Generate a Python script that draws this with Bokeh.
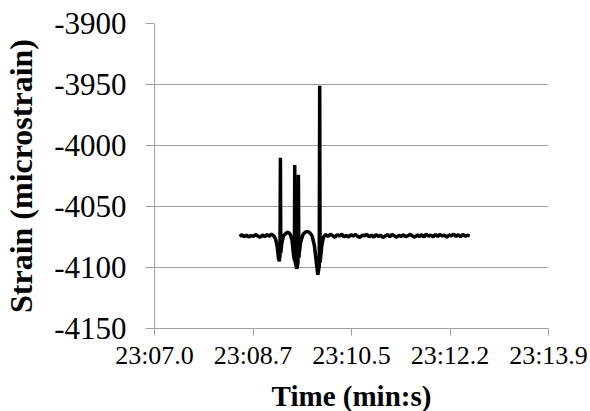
from bokeh.plotting import figure
from bokeh.models import FixedTicker, Range1d
from bokeh.embed import file_html
from bokeh.resources import INLINE

# ---- data (seconds within minute 23, strain in microstrain) ----
time_s = [
    8.49, 8.53, 8.57, 8.61, 8.65, 8.69, 8.73, 8.77, 8.81, 8.85,
    8.89, 8.93, 8.97, 9.01, 9.05, 9.09, 9.12, 9.15, 9.17, 9.185,
    9.198, 9.205, 9.212, 9.23, 9.26, 9.30, 9.34, 9.38, 9.41, 9.43,
    9.45, 9.456, 9.462, 9.48, 9.495, 9.512, 9.52, 9.528, 9.54, 9.56,
    9.60, 9.64, 9.68, 9.72, 9.76, 9.80, 9.83, 9.86, 9.885, 9.893,
    9.90, 9.93, 9.96, 10.00, 10.04, 10.08, 10.12, 10.16, 10.20, 10.24,
    10.28, 10.32, 10.36, 10.40, 10.44, 10.48, 10.52, 10.56, 10.60, 10.64,
    10.68, 10.72, 10.76, 10.80, 10.84, 10.88, 10.92, 10.96, 11.00, 11.04,
    11.08, 11.12, 11.16, 11.20, 11.24, 11.28, 11.32, 11.36, 11.40, 11.44,
    11.48, 11.52, 11.56, 11.60, 11.64, 11.68, 11.72, 11.76, 11.80, 11.84,
    11.88, 11.92, 11.96, 12.00, 12.04, 12.08, 12.12, 12.16, 12.20, 12.24,
    12.28, 12.32, 12.36, 12.40, 12.44, 12.48, 12.52,
]
strain_me = [
    -4074.5, -4073.2, -4074.8, -4073.5, -4075.0, -4073.8, -4074.6, -4072.9, -4074.2, -4075.3,
    -4073.4, -4074.7, -4073.0, -4074.4, -4072.6, -4074.0, -4076.5, -4083.0, -4092.0, -4095.0,
    -4090.0, -4010.0, -4088.0, -4080.0, -4074.0, -4072.0, -4071.0, -4073.0, -4078.0, -4088.0,
    -4094.0, -4016.0, -4095.0, -4099.0, -4101.0, -4096.0, -4024.0, -4092.0, -4086.0, -4079.0,
    -4073.0, -4071.0, -4070.5, -4071.5, -4074.0, -4082.0, -4094.0, -4106.0, -4099.0, -3951.0,
    -4096.0, -4082.0, -4075.0, -4073.0, -4074.5, -4072.8, -4073.9, -4075.2, -4073.1, -4074.3,
    -4072.7, -4074.8, -4073.6, -4075.0, -4073.2, -4074.1, -4072.9, -4074.6, -4075.3, -4073.4,
    -4074.0, -4072.8, -4074.9, -4073.5, -4075.1, -4073.0, -4074.4, -4073.7, -4075.4, -4074.2,
    -4073.1, -4074.7, -4072.9, -4074.0, -4075.2, -4073.6, -4074.5, -4073.2, -4074.8, -4073.9,
    -4072.8, -4074.3, -4075.0, -4073.4, -4074.6, -4073.1, -4074.9, -4072.7, -4074.2, -4073.5,
    -4074.8, -4073.0, -4074.4, -4072.9, -4074.1, -4073.6, -4075.1, -4073.3, -4074.0, -4072.8,
    -4074.5, -4073.2, -4074.7, -4073.0, -4074.3, -4073.6, -4074.1,
]

x_tick_pos = [7.0, 8.725, 10.45, 12.175, 13.9]
x_tick_labels = ["23:07.0", "23:08.7", "23:10.5", "23:12.2", "23:13.9"]
y_tick_pos = [-4150, -4100, -4050, -4000, -3950, -3900]
y_tick_labels = ["-4150", "-4100", "-4050", "-4000", "-3950", "-3900"]

x_title = "Time (min:s)"
y_title = "Strain (microstrain)"

SERIF = "Liberation Serif"
GRID = "#a0a0a0"

p = figure(
    width=588, height=409,
    frame_width=394, frame_height=305,
    min_border_left=154, min_border_right=40,
    min_border_top=23, min_border_bottom=81,
    x_range=Range1d(x_tick_pos[0], x_tick_pos[-1]),
    y_range=Range1d(y_tick_pos[0], y_tick_pos[-1]),
    output_backend="svg", toolbar_location=None,
)
p.outline_line_color = None
p.background_fill_color = "white"
p.border_fill_color = "white"

p.line(time_s, strain_me, line_color="black", line_width=3.5)

# x axis
xa = p.xaxis[0]
xa.ticker = FixedTicker(ticks=x_tick_pos)
xa.major_label_overrides = {t: l for t, l in zip(x_tick_pos, x_tick_labels)}
xa.axis_line_color = GRID
xa.major_tick_line_color = GRID
xa.major_tick_out = 7
xa.major_tick_in = 0
xa.minor_tick_line_color = None
xa.major_label_text_font = SERIF
xa.major_label_text_font_size = "26px"
xa.major_label_text_color = "black"
xa.major_label_standoff = 5
xa.axis_label = x_title
xa.axis_label_text_font = SERIF
xa.axis_label_text_font_size = "29px"
xa.axis_label_text_font_style = "bold"
xa.axis_label_text_color = "black"
xa.axis_label_standoff = 7

# y axis
ya = p.yaxis[0]
ya.ticker = FixedTicker(ticks=y_tick_pos)
ya.major_label_overrides = {t: l for t, l in zip(y_tick_pos, y_tick_labels)}
ya.axis_line_color = GRID
ya.major_tick_line_color = GRID
ya.major_tick_out = 9
ya.major_tick_in = 0
ya.minor_tick_line_color = None
ya.major_label_text_font = SERIF
ya.major_label_text_font_size = "31px"
ya.major_label_text_color = "black"
ya.major_label_standoff = 19
ya.axis_label = y_title
ya.axis_label_text_font = SERIF
ya.axis_label_text_font_size = "32px"
ya.axis_label_text_font_style = "bold"
ya.axis_label_text_color = "black"
ya.axis_label_standoff = 12

p.xgrid.grid_line_color = None
p.ygrid.grid_line_color = GRID
p.ygrid.grid_line_width = 1

open("out.html", "w").write(file_html(p, INLINE))
